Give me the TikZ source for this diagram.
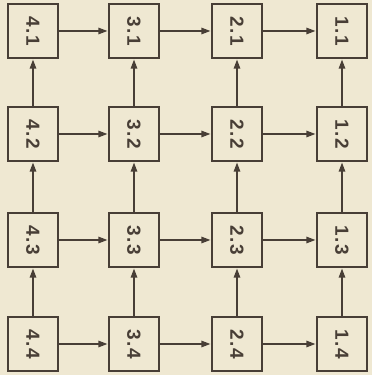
\documentclass[tikz,border=0pt]{standalone}
\usepackage{fontspec}
\setsansfont{Liberation Sans}
\usepackage{tikz}
\usetikzlibrary{arrows.meta}
\definecolor{paperbg}{RGB}{239,232,210}
\definecolor{inkgray}{RGB}{72,62,54}
\newcommand{\celltext}[2]{\rotatebox{-90}{#1\kern1.5pt.\kern1.5pt#2}}

\begin{document}
\begin{tikzpicture}[x=1pt,y=1pt,>={Triangle[length=9pt,width=6.5pt]},
  cell/.style={draw=inkgray,line width=2.2pt,minimum width=50pt,minimum height=54pt,inner sep=0pt,
    font=\fontsize{19}{22}\selectfont\sffamily\bfseries,text=inkgray},
  link/.style={->,draw=inkgray,line width=1.3pt,shorten >=0.5pt}]
\fill[paperbg] (0,0) rectangle (372,375);
\useasboundingbox (0,0) rectangle (372,375);
% row 1
\node[cell] (n41) at (33,344) {\celltext{4}{1}};
\node[cell] (n31) at (134,344) {\celltext{3}{1}};
\node[cell] (n21) at (237,344) {\celltext{2}{1}};
\node[cell] (n11) at (342,344) {\celltext{1}{1}};
% row 2
\node[cell] (n42) at (33,241) {\celltext{4}{2}};
\node[cell] (n32) at (134,241) {\celltext{3}{2}};
\node[cell] (n22) at (237,241) {\celltext{2}{2}};
\node[cell] (n12) at (342,241) {\celltext{1}{2}};
% row 3
\node[cell] (n43) at (33,135) {\celltext{4}{3}};
\node[cell] (n33) at (134,135) {\celltext{3}{3}};
\node[cell] (n23) at (237,135) {\celltext{2}{3}};
\node[cell] (n13) at (342,135) {\celltext{1}{3}};
% row 4
\node[cell] (n44) at (33,31) {\celltext{4}{4}};
\node[cell] (n34) at (134,31) {\celltext{3}{4}};
\node[cell] (n24) at (237,31) {\celltext{2}{4}};
\node[cell] (n14) at (342,31) {\celltext{1}{4}};
% horizontal links
\draw[link] (n41) -- (n31); \draw[link] (n31) -- (n21); \draw[link] (n21) -- (n11);
\draw[link] (n42) -- (n32); \draw[link] (n32) -- (n22); \draw[link] (n22) -- (n12);
\draw[link] (n43) -- (n33); \draw[link] (n33) -- (n23); \draw[link] (n23) -- (n13);
\draw[link] (n44) -- (n34); \draw[link] (n34) -- (n24); \draw[link] (n24) -- (n14);
% vertical links
\draw[link] (n44) -- (n43); \draw[link] (n43) -- (n42); \draw[link] (n42) -- (n41);
\draw[link] (n34) -- (n33); \draw[link] (n33) -- (n32); \draw[link] (n32) -- (n31);
\draw[link] (n24) -- (n23); \draw[link] (n23) -- (n22); \draw[link] (n22) -- (n21);
\draw[link] (n14) -- (n13); \draw[link] (n13) -- (n12); \draw[link] (n12) -- (n11);
\end{tikzpicture}
\end{document}
